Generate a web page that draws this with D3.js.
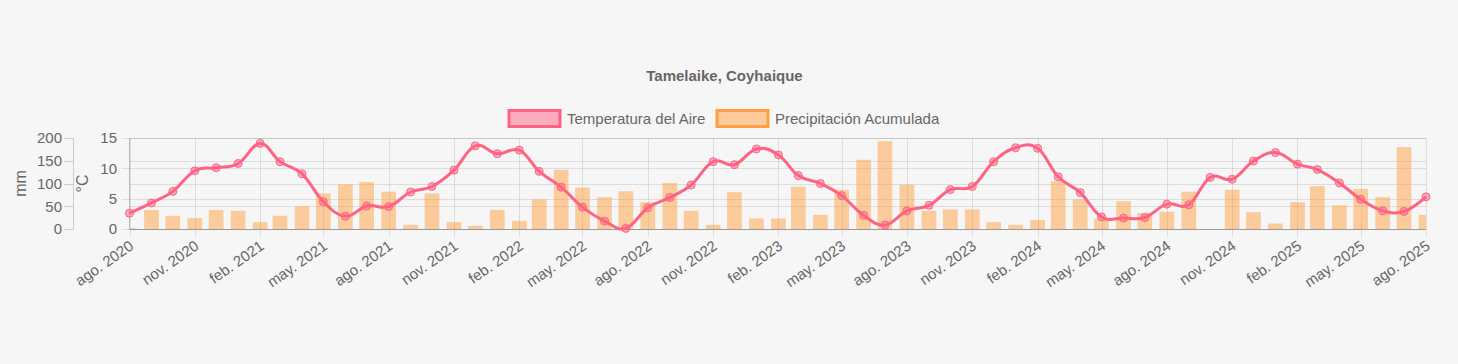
<!DOCTYPE html>
<html>
<head>
<meta charset="utf-8">
<script src="https://cdn.jsdelivr.net/npm/d3@7"></script>
<style>
  html, body { margin: 0; padding: 0; background: #f6f6f6; }
  svg { display: block; font-family: "Liberation Sans", Arial, Helvetica, sans-serif; }
</style>
</head>
<body>
<div id="chart"></div>
<script>
document.addEventListener("DOMContentLoaded", function(event) {

    // months shown, ago. 2020 .. ago. 2025
    var months = [
        "2020-08","2020-09","2020-10","2020-11","2020-12",
        "2021-01","2021-02","2021-03","2021-04","2021-05","2021-06","2021-07","2021-08","2021-09","2021-10","2021-11","2021-12",
        "2022-01","2022-02","2022-03","2022-04","2022-05","2022-06","2022-07","2022-08","2022-09","2022-10","2022-11","2022-12",
        "2023-01","2023-02","2023-03","2023-04","2023-05","2023-06","2023-07","2023-08","2023-09","2023-10","2023-11","2023-12",
        "2024-01","2024-02","2024-03","2024-04","2024-05","2024-06","2024-07","2024-08","2024-09","2024-10","2024-11","2024-12",
        "2025-01","2025-02","2025-03","2025-04","2025-05","2025-06","2025-07","2025-08"
    ];

    // Temperatura del Aire (°C)
    var temperatura = [
        2.6, 4.3, 6.2, 9.6, 10.1,
        10.8, 14.1, 11.1, 9.1, 4.5, 2.1, 3.8, 3.7, 6.1, 7.0, 9.7, 13.7,
        12.4, 13.0, 9.5, 6.9, 3.6, 1.3, 0.1, 3.5, 5.2, 7.25, 11.1, 10.6,
        13.2, 12.2, 8.8, 7.5, 5.5, 2.25, 0.65, 3.0, 3.9, 6.5, 7.0, 11.1,
        13.4, 13.3, 8.6, 6.0, 2.0, 1.8, 1.9, 4.1, 4.0, 8.5, 8.2, 11.2,
        12.6, 10.7, 9.8, 7.6, 4.9, 3.0, 2.9, 5.3
    ];

    // Precipitación Acumulada (mm)
    var precipitacion = [
        2, 42, 29, 24, 42,
        40, 15, 29, 50, 78, 98, 103, 82, 9, 78, 15, 7,
        42, 18, 65, 130, 91, 70, 83, 59, 101, 40, 9, 81,
        23, 23, 93, 31, 86, 152, 193, 97, 40, 43, 43, 15,
        9, 20, 105, 65, 23, 61, 35, 38, 82, 0, 86, 37,
        12, 59, 94, 52, 88, 70, 180, 31
    ];

    var tickMonths = ["2020-08","2020-11","2021-02","2021-05","2021-08","2021-11","2022-02","2022-05","2022-08",
        "2022-11","2023-02","2023-05","2023-08","2023-11","2024-02","2024-05","2024-08","2024-11","2025-02","2025-05","2025-08"];
    var tickLabels = ["ago. 2020","nov. 2020","feb. 2021","may. 2021","ago. 2021","nov. 2021","feb. 2022","may. 2022","ago. 2022",
        "nov. 2022","feb. 2023","may. 2023","ago. 2023","nov. 2023","feb. 2024","may. 2024","ago. 2024","nov. 2024","feb. 2025","may. 2025","ago. 2025"];

    var tempTicks = [0, 5, 10, 15];
    var mmTicks = [0, 50, 100, 150, 200];

    var width = 1458;
    var height = 364;
    var plot = { left: 129.5, right: 1426, top: 138, bottom: 229 };
    var fontSize = 15;

    var pink = "rgb(255,99,132)";
    var pinkFill = "rgba(255,99,132,0.5)";
    var orange = "rgb(255,159,64)";
    var orangeFill = "rgba(255,159,64,0.5)";
    var textColor = "#666";
    var gridColor = "rgba(0,0,0,0.1)";

    var parse = d3.timeParse("%Y-%m");
    var data = months.map(function(m, i) {
        return { date: parse(m), temp: temperatura[i], mm: precipitacion[i] };
    });

    var x = d3.scaleTime()
        .domain([parse(months[0]), parse(months[months.length - 1])])
        .range([plot.left, plot.right]);
    var yT = d3.scaleLinear().domain([0, 15]).range([plot.bottom, plot.top]);
    var yM = d3.scaleLinear().domain([0, 200]).range([plot.bottom, plot.top]);

    var svg = d3.select("#chart")
        .append("svg")
        .attr("width", width)
        .attr("height", height);

    svg.append("rect").attr("width", width).attr("height", height).attr("fill", "#f6f6f6");

    // title
    svg.append("text")
        .attr("x", 724.5)
        .attr("y", 81)
        .attr("text-anchor", "middle")
        .attr("font-size", fontSize)
        .attr("font-weight", "bold")
        .attr("fill", textColor)
        .text("Tamelaike, Coyhaique");

    // legend
    var legendItems = [
        { label: "Temperatura del Aire", fill: pinkFill, stroke: pink, x: 509 },
        { label: "Precipitación Acumulada", fill: orangeFill, stroke: orange, x: 717 }
    ];
    var lg = svg.append("g").selectAll("g").data(legendItems).enter().append("g");
    lg.append("rect")
        .attr("x", d => d.x)
        .attr("y", 110.5)
        .attr("width", 51)
        .attr("height", 16)
        .attr("fill", d => d.fill)
        .attr("stroke", d => d.stroke)
        .attr("stroke-width", 3);
    lg.append("text")
        .attr("x", d => d.x + 58)
        .attr("y", 124)
        .attr("font-size", fontSize)
        .attr("fill", textColor)
        .text(d => d.label);

    // grid: vertical at x ticks
    var tickDates = tickMonths.map(parse);
    svg.append("g").selectAll("line").data(tickDates).enter().append("line")
        .attr("x1", d => Math.round(x(d)) + 0.5).attr("x2", d => Math.round(x(d)) + 0.5)
        .attr("y1", plot.top).attr("y2", plot.bottom + 8)
        .attr("stroke", gridColor).attr("stroke-width", 1);

    // grid: horizontal for °C ticks (with tick marks)
    svg.append("g").selectAll("line").data(tempTicks).enter().append("line")
        .attr("x1", plot.left - 8).attr("x2", plot.right)
        .attr("y1", d => Math.round(yT(d)) + 0.5).attr("y2", d => Math.round(yT(d)) + 0.5)
        .attr("stroke", gridColor).attr("stroke-width", 1);

    // grid: horizontal for mm ticks
    svg.append("g").selectAll("line").data(mmTicks).enter().append("line")
        .attr("x1", plot.left).attr("x2", plot.right)
        .attr("y1", d => Math.round(yM(d)) + 0.5).attr("y2", d => Math.round(yM(d)) + 0.5)
        .attr("stroke", gridColor).attr("stroke-width", 1);

    // bars
    svg.append("clipPath").attr("id", "plotclip")
        .append("rect")
        .attr("x", plot.left).attr("y", 0)
        .attr("width", plot.right - plot.left).attr("height", plot.bottom);

    var step = (plot.right - plot.left) / (months.length - 1);
    var barW = step * 0.68;
    svg.append("g").attr("clip-path", "url(#plotclip)")
        .selectAll("rect").data(data).enter().append("rect")
        .attr("x", d => x(d.date) - barW / 2)
        .attr("y", d => yM(d.mm))
        .attr("width", barW)
        .attr("height", d => plot.bottom - yM(d.mm))
        .attr("fill", orangeFill);

    // axis lines
    svg.append("line")
        .attr("x1", plot.left).attr("x2", plot.right)
        .attr("y1", plot.bottom + 0.5).attr("y2", plot.bottom + 0.5)
        .attr("stroke", "#999").attr("stroke-width", 1);
    svg.append("line")
        .attr("x1", plot.left).attr("x2", plot.left)
        .attr("y1", plot.top).attr("y2", plot.bottom)
        .attr("stroke", "#bbb").attr("stroke-width", 1);

    // °C axis labels
    svg.append("g").selectAll("text").data(tempTicks).enter().append("text")
        .attr("x", 117)
        .attr("y", d => yT(d))
        .attr("dy", "0.35em")
        .attr("text-anchor", "end")
        .attr("font-size", fontSize)
        .attr("fill", textColor)
        .text(d => d);

    // mm axis
    var mmAxisX = 73.5;
    svg.append("line")
        .attr("x1", mmAxisX).attr("x2", mmAxisX)
        .attr("y1", plot.top).attr("y2", plot.bottom)
        .attr("stroke", "#ccc");
    svg.append("g").selectAll("line").data(mmTicks).enter().append("line")
        .attr("x1", mmAxisX - 9).attr("x2", mmAxisX)
        .attr("y1", d => Math.round(yM(d)) + 0.5).attr("y2", d => Math.round(yM(d)) + 0.5)
        .attr("stroke", "#ccc");
    svg.append("g").selectAll("text").data(mmTicks).enter().append("text")
        .attr("x", 62)
        .attr("y", d => yM(d))
        .attr("dy", "0.35em")
        .attr("text-anchor", "end")
        .attr("font-size", fontSize)
        .attr("fill", textColor)
        .text(d => d);

    // axis titles
    var midY = (plot.top + plot.bottom) / 2;
    svg.append("text")
        .attr("transform", "translate(26," + midY + ") rotate(-90)")
        .attr("text-anchor", "middle")
        .attr("font-size", 16)
        .attr("fill", textColor)
        .text("mm");
    svg.append("text")
        .attr("transform", "translate(88," + midY + ") rotate(-90)")
        .attr("text-anchor", "middle")
        .attr("font-size", 16)
        .attr("fill", textColor)
        .text("°C");

    // x tick labels, rotated
    svg.append("g").selectAll("text").data(tickDates).enter().append("text")
        .attr("transform", (d, i) => "translate(" + (x(d) + 2) + "," + (plot.bottom + 15) + ") rotate(-35)")
        .attr("text-anchor", "end")
        .attr("dy", "0.35em")
        .attr("font-size", fontSize)
        .attr("fill", textColor)
        .text((d, i) => tickLabels[i]);

    // temperature line
    var line = d3.line()
        .x(d => x(d.date))
        .y(d => yT(d.temp))
        .curve(d3.curveCardinal.tension(-0.2));

    svg.append("path")
        .datum(data)
        .attr("d", line)
        .attr("fill", "none")
        .attr("stroke", pink)
        .attr("stroke-width", 3);

    svg.append("g").selectAll("circle").data(data).enter().append("circle")
        .attr("cx", d => x(d.date))
        .attr("cy", d => yT(d.temp))
        .attr("r", 4)
        .attr("fill", pinkFill)
        .attr("stroke", pink)
        .attr("stroke-width", 1);
});
</script>
</body>
</html>
